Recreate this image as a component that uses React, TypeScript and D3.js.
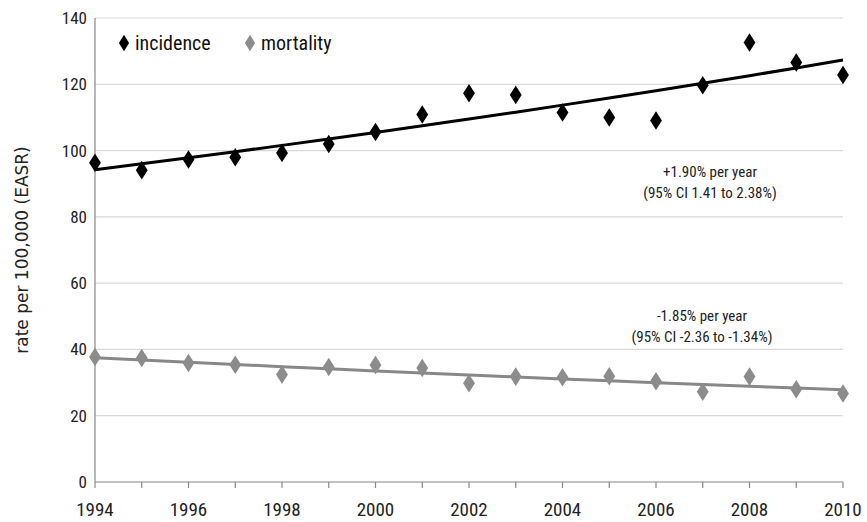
import React from 'react';
import * as d3 from 'd3';

const years = d3.range(1994, 2011);
const incidence = [96.3, 94.1, 97.3, 98, 99.3, 102, 105.6, 110.9, 117.3, 116.8, 111.5, 110, 109.1, 119.7, 132.6, 126.6, 122.8];
const mortality = [37.7, 37.4, 35.9, 35.4, 32.4, 34.7, 35.3, 34.4, 29.8, 31.8, 31.6, 31.9, 30.4, 27.2, 31.8, 28, 26.7];
// fitted trend: start value at 1994 and annual percent change
const incTrend = { start: 94.2, apc: 0.019 };
const mortTrend = { start: 37.5, apc: -0.0185 };
const yTicks = [0, 20, 40, 60, 80, 100, 120, 140];
const xTicks = [1994, 1996, 1998, 2000, 2002, 2004, 2006, 2008, 2010];

const W = 867, H = 522;
const margin = { top: 18, right: 24, bottom: 40, left: 95 };
const narrow = "'Liberation Sans Narrow', 'Arial Narrow', 'Roboto Condensed', 'Liberation Sans', sans-serif";

export default function App() {
  const x = d3.scaleLinear().domain([1994, 2010]).range([margin.left, W - margin.right]);
  const y = d3.scaleLinear().domain([0, 140]).range([H - margin.bottom, margin.top]);
  const trend = (t: { start: number; apc: number }) =>
    d3.line<number>().x((yr) => x(yr)).y((yr) => y(t.start * Math.pow(1 + t.apc, yr - 1994)))(years) || '';
  const diamond = d3.symbol().type(d3.symbolDiamond).size(110)() || '';

  return (
    <svg width={W} height={H} style={{ position: 'absolute', left: 0, top: 0, background: '#fff' }}>
      {yTicks.map((t) => (
        <g key={t}>
          {t > 0 && <line x1={margin.left} x2={W - margin.right} y1={y(t)} y2={y(t)} stroke="#d9d9d9" strokeWidth={1.2} />}
          <text x={margin.left - 8} y={y(t)} dy="0.35em" textAnchor="end" fontFamily={narrow} fontSize={17} fill="#222">{t}</text>
        </g>
      ))}
      <line x1={margin.left} x2={margin.left} y1={margin.top} y2={y(0)} stroke="#888" strokeWidth={1.2} />
      <line x1={margin.left} x2={W - margin.right} y1={y(0)} y2={y(0)} stroke="#888" strokeWidth={1.2} />
      {years.map((yr) => (
        <line key={yr} x1={x(yr)} x2={x(yr)} y1={y(0)} y2={y(0) + 6} stroke="#888" strokeWidth={1.2} />
      ))}
      {xTicks.map((t) => (
        <text key={t} x={x(t)} y={y(0) + 34} textAnchor="middle" fontFamily={narrow} fontSize={19} fill="#222">{t}</text>
      ))}
      <text transform={`translate(28,${(margin.top + y(0)) / 2}) rotate(-90)`} textAnchor="middle" fontFamily="'DejaVu Sans', sans-serif" fontSize={17} fill="#222">rate per 100,000 (EASR)</text>

      <path d={trend(incTrend)} fill="none" stroke="#000" strokeWidth={3} />
      <path d={trend(mortTrend)} fill="none" stroke="#888" strokeWidth={3} />
      {years.map((yr, i) => (
        <path key={'i' + yr} d={diamond} transform={`translate(${x(yr)},${y(incidence[i])}) scale(1.05,0.95)`} fill="#000" />
      ))}
      {years.map((yr, i) => (
        <path key={'m' + yr} d={diamond} transform={`translate(${x(yr)},${y(mortality[i])}) scale(1.05,0.95)`} fill="#8c8c8c" />
      ))}

      <g fontFamily={narrow} fontSize={20} fill="#111">
        <path d={diamond} transform="translate(124,43) scale(0.9,0.85)" fill="#000" />
        <text x={135} y={50}>incidence</text>
        <path d={diamond} transform="translate(250,43) scale(0.9,0.85)" fill="#8c8c8c" />
        <text x={261} y={50}>mortality</text>
      </g>
      <g fontFamily={narrow} fontSize={15} fill="#222" textAnchor="middle">
        <text x={710} y={177}>+1.90% per year</text>
        <text x={710} y={198}>(95% CI 1.41 to 2.38%)</text>
        <text x={702} y={321}>-1.85% per year</text>
        <text x={702} y={342}>(95% CI -2.36 to -1.34%)</text>
      </g>
    </svg>
  );
}
